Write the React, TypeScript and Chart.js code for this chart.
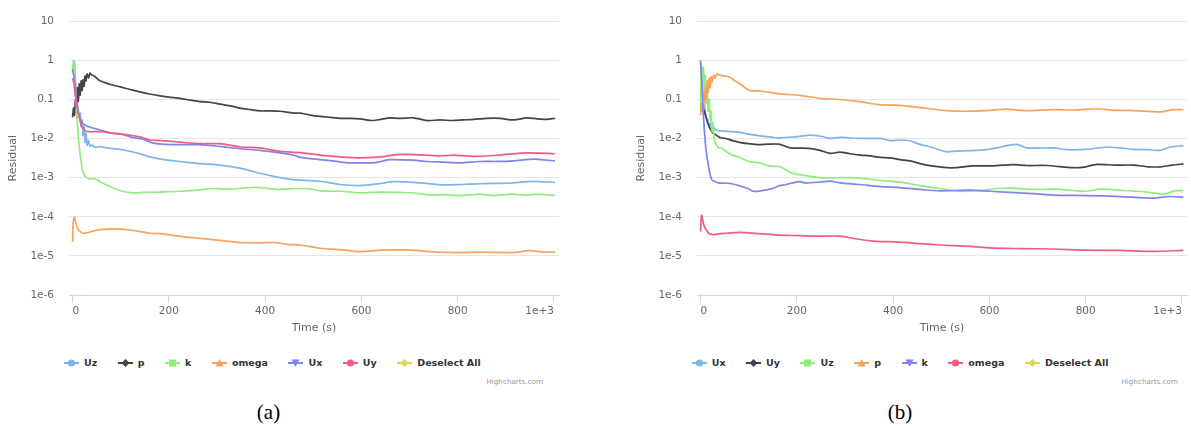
import React, { useEffect, useRef } from "react";
import { Chart, registerables } from "chart.js";
Chart.register(...registerables);

// ---------- shared axis data ----------
const palette = ["#7cb5ec", "#434348", "#90ed7d", "#f7a35c", "#8085e9", "#f15c80", "#e4d354"];
const markerShapes = ["circle", "diamond", "square", "triangle", "triangle-down", "circle", "diamond"];
const yTickValues = [1e-6, 1e-5, 1e-4, 1e-3, 1e-2, 0.1, 1, 10];
const yTickLabels = ["1e-6", "1e-5", "1e-4", "1e-3", "1e-2", "0.1", "1", "10"];
const xTickValues = [0, 200, 400, 600, 800, 1000];
const xTickLabels = ["0", "200", "400", "600", "800", "1e+3"];
const xTitle = "Time (s)";
const yTitle = "Residual";

// ---------- chart (a) ----------
const namesA = ["Uz", "p", "k", "omega", "Ux", "Uy", "Deselect All"];

const aUzT = [0, 2, 4, 6, 8, 10, 12, 14, 16, 18, 20, 22, 24, 26, 28, 30, 33, 36, 40, 47, 57, 75, 99, 130, 161, 190, 223, 265, 306, 348, 389, 431, 458, 473, 514, 556, 597, 639, 666, 722, 763, 805, 847, 915, 956, 1002];
const aUzV = [0.5, 0.8, 0.9, 0.3, 0.15, 0.08, 0.05, 0.035, 0.045, 0.02, 0.03, 0.012, 0.02, 0.008, 0.014, 0.0068, 0.009, 0.0065, 0.0068, 0.006, 0.0062, 0.0057, 0.0053, 0.0044, 0.0034, 0.0029, 0.0026, 0.0023, 0.0021, 0.00175, 0.0013, 0.001, 0.00089, 0.00087, 0.00081, 0.00067, 0.00063, 0.00071, 0.00079, 0.00074, 0.00066, 0.00067, 0.0007, 0.00074, 0.00081, 0.00076];

const aPT = [0, 2, 4, 6, 8, 10, 12, 14, 16, 18, 20, 22, 24, 26, 28, 30, 33, 36, 40, 45, 57, 75, 99, 120, 140, 160, 182, 200, 223, 245, 265, 285, 306, 330, 348, 370, 389, 410, 431, 458, 473, 494, 514, 535, 556, 576, 597, 624, 640, 659, 680, 708, 736, 763, 790, 810, 833, 860, 888, 916, 944, 965, 985, 1002];
const aPV = [0.035, 0.06, 0.04, 0.1, 0.065, 0.2, 0.09, 0.25, 0.13, 0.3, 0.17, 0.32, 0.22, 0.4, 0.3, 0.45, 0.35, 0.47, 0.42, 0.4, 0.3, 0.25, 0.21, 0.18, 0.156, 0.138, 0.124, 0.115, 0.107, 0.096, 0.088, 0.085, 0.076, 0.068, 0.06, 0.055, 0.051, 0.051, 0.05, 0.045, 0.045, 0.04, 0.037, 0.035, 0.033, 0.033, 0.032, 0.029, 0.031, 0.034, 0.033, 0.034, 0.029, 0.03, 0.029, 0.03, 0.031, 0.033, 0.033, 0.03, 0.034, 0.032, 0.031, 0.033];

const aKT = [0, 2, 5, 9, 13, 17, 21, 26, 33, 47, 61, 82, 103, 126, 150, 182, 223, 265, 293, 320, 348, 375, 400, 424, 450, 473, 493, 514, 556, 597, 639, 680, 708, 743, 775, 805, 847, 874, 909, 944, 964, 1002];
const aKV = [0.6, 1.0, 0.3, 0.04, 0.008, 0.003, 0.0015, 0.0011, 0.00095, 0.00093, 0.00074, 0.00056, 0.00045, 0.00041, 0.00042, 0.00043, 0.00045, 0.00049, 0.00053, 0.00051, 0.00053, 0.00057, 0.00054, 0.0005, 0.00052, 0.00053, 0.00052, 0.00046, 0.00045, 0.00041, 0.00043, 0.00042, 0.00041, 0.00036, 0.00037, 0.00035, 0.00038, 0.00035, 0.00038, 0.00036, 0.00038, 0.00035];

const aOmegaT = [0, 1, 2, 4, 6, 10, 16, 22, 30, 45, 57, 85, 119, 161, 182, 223, 265, 306, 348, 389, 420, 445, 473, 514, 556, 597, 639, 694, 743, 791, 847, 916, 950, 978, 1002];
const aOmegaV = [2.3e-5, 6e-5, 8.5e-5, 9.8e-5, 7.5e-5, 5.2e-5, 4.2e-5, 3.8e-5, 3.9e-5, 4.4e-5, 4.7e-5, 4.9e-5, 4.6e-5, 3.8e-5, 3.7e-5, 3.16e-5, 2.8e-5, 2.5e-5, 2.2e-5, 2.15e-5, 2.2e-5, 1.97e-5, 1.9e-5, 1.57e-5, 1.45e-5, 1.29e-5, 1.4e-5, 1.42e-5, 1.29e-5, 1.22e-5, 1.25e-5, 1.22e-5, 1.37e-5, 1.25e-5, 1.25e-5];

const aUxT = [0, 4, 8, 10, 12, 16, 22, 30, 40, 47, 65, 82, 103, 124, 145, 165, 186, 223, 265, 306, 348, 389, 431, 458, 473, 514, 540, 570, 597, 624, 640, 659, 708, 736, 770, 805, 847, 880, 916, 957, 1002];
const aUxV = [0.6, 0.3, 0.1, 0.066, 0.045, 0.031, 0.024, 0.021, 0.019, 0.018, 0.0155, 0.0138, 0.0128, 0.0107, 0.0098, 0.0078, 0.0072, 0.007, 0.007, 0.0063, 0.0055, 0.005, 0.0043, 0.0038, 0.0033, 0.0029, 0.0027, 0.0024, 0.0024, 0.0024, 0.0026, 0.0029, 0.0028, 0.0026, 0.0025, 0.0024, 0.0026, 0.0026, 0.0027, 0.003, 0.0027];

const aUyT = [0, 3, 6, 10, 14, 18, 22, 26, 33, 45, 61, 82, 103, 124, 145, 161, 186, 223, 265, 306, 348, 389, 431, 473, 514, 556, 597, 639, 673, 708, 763, 791, 833, 888, 944, 1002];
const aUyV = [0.35, 0.25, 0.12, 0.06, 0.035, 0.022, 0.018, 0.016, 0.015, 0.015, 0.015, 0.0138, 0.013, 0.012, 0.0107, 0.0092, 0.0089, 0.0081, 0.0074, 0.0074, 0.0061, 0.0058, 0.0047, 0.0044, 0.0038, 0.0034, 0.0032, 0.0034, 0.0039, 0.0039, 0.0036, 0.0038, 0.0035, 0.0038, 0.0043, 0.0041];

// ---------- chart (b) ----------
const namesB = ["Ux", "Uy", "Uz", "p", "k", "omega", "Deselect All"];

const bUxT = [0, 3, 6, 9, 12, 15, 18, 21, 24, 27, 30, 37, 50, 65, 82, 100, 123, 134, 155, 165, 190, 206, 227, 250, 269, 289, 310, 331, 373, 394, 414, 435, 456, 480, 511, 530, 560, 594, 615, 636, 657, 678, 705, 733, 761, 802, 844, 870, 899, 930, 955, 976, 1003];
const bUxV = [0.9, 0.3, 0.1, 0.06, 0.035, 0.03, 0.02, 0.025, 0.018, 0.02, 0.017, 0.016, 0.0155, 0.015, 0.0144, 0.013, 0.0118, 0.0114, 0.0105, 0.0104, 0.011, 0.0114, 0.0123, 0.0115, 0.0101, 0.0108, 0.0104, 0.0101, 0.0101, 0.0089, 0.0092, 0.0088, 0.0071, 0.006, 0.0046, 0.0048, 0.0049, 0.0052, 0.0058, 0.0066, 0.0071, 0.0058, 0.0057, 0.0058, 0.0052, 0.0053, 0.0061, 0.0058, 0.0053, 0.0052, 0.005, 0.0061, 0.0066];

const bUyT = [0, 5, 10, 15, 20, 25, 30, 40, 51, 65, 86, 100, 120, 140, 162, 186, 206, 227, 248, 269, 289, 310, 331, 352, 373, 394, 414, 435, 456, 480, 511, 530, 566, 600, 649, 678, 720, 775, 800, 823, 860, 899, 930, 955, 980, 1003];
const bUyV = [0.05, 0.06, 0.04, 0.025, 0.018, 0.014, 0.013, 0.0107, 0.0102, 0.009, 0.0078, 0.0074, 0.007, 0.0072, 0.0072, 0.0058, 0.0057, 0.0056, 0.005, 0.0042, 0.0045, 0.0041, 0.0038, 0.0036, 0.0033, 0.0032, 0.0029, 0.0027, 0.0023, 0.002, 0.0018, 0.0018, 0.002, 0.002, 0.00215, 0.00205, 0.00205, 0.0018, 0.0019, 0.0022, 0.0021, 0.0021, 0.0019, 0.0019, 0.0021, 0.00225];

const bUzT = [0, 2, 4, 6, 8, 10, 12, 14, 16, 18, 20, 22, 24, 26, 28, 30, 37, 44, 65, 82, 100, 123, 141, 165, 190, 206, 248, 289, 331, 373, 414, 456, 497, 539, 580, 615, 650, 690, 733, 775, 800, 830, 880, 927, 961, 985, 1003];
const bUzV = [0.05, 0.7, 0.3, 0.66, 0.15, 0.4, 0.08, 0.2, 0.05, 0.1, 0.03, 0.05, 0.015, 0.025, 0.01, 0.008, 0.006, 0.0056, 0.0038, 0.0033, 0.0026, 0.0024, 0.002, 0.0019, 0.0013, 0.0012, 0.001, 0.001, 0.00098, 0.00085, 0.00077, 0.00063, 0.00053, 0.00045, 0.00047, 0.00053, 0.00054, 0.0005, 0.00051, 0.00047, 0.00045, 0.00051, 0.00047, 0.00043, 0.00038, 0.00046, 0.00047];

const bPT = [0, 2, 4, 6, 8, 10, 12, 14, 16, 18, 20, 22, 24, 27, 30, 34, 40, 50, 61, 72, 82, 102, 123, 165, 206, 248, 289, 331, 373, 414, 456, 511, 545, 594, 636, 670, 733, 780, 823, 860, 900, 955, 982, 1003];
const bPV = [0.04, 0.08, 0.05, 0.15, 0.07, 0.2, 0.1, 0.3, 0.15, 0.35, 0.2, 0.38, 0.28, 0.42, 0.35, 0.45, 0.42, 0.4, 0.37, 0.3, 0.25, 0.17, 0.165, 0.14, 0.128, 0.107, 0.1, 0.088, 0.073, 0.071, 0.062, 0.052, 0.05, 0.052, 0.057, 0.052, 0.055, 0.054, 0.058, 0.053, 0.052, 0.048, 0.055, 0.055];

const bKT = [0, 3, 6, 11, 17, 23, 30, 37, 58, 79, 100, 109, 120, 137, 148, 165, 176, 192, 206, 220, 250, 269, 289, 331, 373, 414, 456, 497, 560, 601, 664, 733, 802, 872, 940, 970, 1003];
const bKV = [1.0, 0.2, 0.037, 0.0056, 0.0018, 0.0009, 0.0008, 0.00074, 0.00072, 0.00063, 0.00052, 0.00045, 0.00045, 0.00049, 0.00052, 0.00063, 0.00066, 0.00074, 0.00079, 0.00073, 0.00078, 0.00082, 0.00074, 0.00067, 0.00059, 0.00056, 0.0005, 0.00046, 0.00048, 0.00045, 0.00041, 0.00036, 0.00035, 0.00033, 0.0003, 0.00033, 0.00032];

const bOmegaT = [0, 2, 4, 7, 12, 18, 26, 40, 54, 82, 123, 165, 206, 248, 290, 317, 358, 414, 456, 497, 560, 601, 664, 733, 802, 872, 940, 1003];
const bOmegaV = [4.2e-5, 1.1e-4, 9e-5, 6e-5, 4.6e-5, 3.7e-5, 3.5e-5, 3.7e-5, 3.8e-5, 4e-5, 3.7e-5, 3.4e-5, 3.3e-5, 3.2e-5, 3.2e-5, 2.8e-5, 2.4e-5, 2.25e-5, 2.05e-5, 1.9e-5, 1.76e-5, 1.6e-5, 1.54e-5, 1.5e-5, 1.4e-5, 1.38e-5, 1.3e-5, 1.38e-5];

const emptyT: number[] = [];
const emptyV: number[] = [];

const seriesA = [
  [aUzT, aUzV], [aPT, aPV], [aKT, aKV], [aOmegaT, aOmegaV], [aUxT, aUxV], [aUyT, aUyV], [emptyT, emptyV],
];
const seriesB = [
  [bUxT, bUxV], [bUyT, bUyV], [bUzT, bUzV], [bPT, bPV], [bKT, bKV], [bOmegaT, bOmegaV], [emptyT, emptyV],
];

const AXIS_FONT = "DejaVu Sans";

function ResidualChart(props: { names: string[]; series: number[][][]; left: number; width: number; padRight: number }) {
  const ref = useRef<HTMLCanvasElement | null>(null);
  useEffect(() => {
    if (!ref.current) return;
    const datasets = props.series.map((s, i) => ({
      label: props.names[i],
      data: s[0].map((t, j) => ({ x: t, y: s[1][j] })),
      borderColor: palette[i],
      backgroundColor: palette[i],
      borderWidth: 1.7,
      pointRadius: 0,
      fill: false,
      tension: 0.25,
      order: -i,
    }));
    const chart = new Chart(ref.current, {
      type: "line",
      data: { datasets },
      options: {
        animation: false,
        responsive: false,
        maintainAspectRatio: false,
        layout: { padding: { left: 0, right: props.padRight, top: 14, bottom: 0 } },
        plugins: { legend: { display: false }, tooltip: { enabled: false } },
        scales: {
          x: {
            type: "linear",
            min: -7.4,
            max: 1010.4,
            afterBuildTicks: (s: any) => {
              s.ticks = xTickValues.map((v) => ({ value: v }));
            },
            afterFit: (s: any) => {
              s.height = 45;
            },
            ticks: {
              callback: (_v: any, i: number) => xTickLabels[i],
              align: "inner",
              color: "#666666",
              font: { family: AXIS_FONT, size: 10.5 },
              padding: 2,
              maxRotation: 0,
              autoSkip: false,
            },
            grid: { display: true, drawOnChartArea: false, drawTicks: true, tickLength: 8, color: "#ccd6eb", lineWidth: 1 },
            border: { display: true, color: "#ccd6eb", width: 1 },
            title: { display: true, text: xTitle, color: "#666666", font: { family: AXIS_FONT, size: 11 }, padding: { top: 0, bottom: 5 } },
          },
          y: {
            type: "logarithmic",
            min: 1e-6,
            max: 10,
            afterBuildTicks: (s: any) => {
              s.ticks = yTickValues.map((v) => ({ value: v }));
            },
            afterFit: (s: any) => {
              s.width = 69;
            },
            ticks: {
              callback: (_v: any, i: number) => yTickLabels[i],
              color: "#666666",
              font: { family: AXIS_FONT, size: 10.5 },
              padding: 15,
              autoSkip: false,
            },
            grid: { color: "#e6e6e6", drawTicks: false, lineWidth: 1 },
            border: { display: false },
            title: { display: true, text: yTitle, color: "#666666", font: { family: AXIS_FONT, size: 11 }, padding: { top: 7, bottom: 0 } },
          },
        },
      } as any,
    });
    return () => chart.destroy();
  }, []);
  return (
    <canvas
      ref={ref}
      width={props.width}
      height={340}
      style={{ position: "absolute", left: props.left, top: 0, width: props.width, height: 340 }}
    />
  );
}

function Symbol(props: { color: string; shape: string }) {
  const c = props.color;
  const cx = 7.5;
  const cy = 5;
  let marker: React.ReactNode = null;
  if (props.shape === "circle") marker = <circle cx={cx} cy={cy} r={3.6} fill={c} />;
  else if (props.shape === "diamond") marker = <polygon points={`${cx},${cy - 4} ${cx + 4},${cy} ${cx},${cy + 4} ${cx - 4},${cy}`} fill={c} />;
  else if (props.shape === "square") marker = <rect x={cx - 3.5} y={cy - 3.5} width={7} height={7} fill={c} />;
  else if (props.shape === "triangle") marker = <polygon points={`${cx},${cy - 4} ${cx + 4},${cy + 3.5} ${cx - 4},${cy + 3.5}`} fill={c} />;
  else marker = <polygon points={`${cx - 4},${cy - 3.5} ${cx + 4},${cy - 3.5} ${cx},${cy + 4}`} fill={c} />;
  return (
    <svg width={15} height={10} style={{ display: "block" }}>
      <line x1={0} y1={cy} x2={15} y2={cy} stroke={c} strokeWidth={2} />
      {marker}
    </svg>
  );
}

function Legend(props: { names: string[]; left: number }) {
  return (
    <div
      style={{
        position: "absolute",
        left: props.left,
        top: 357,
        height: 12,
        display: "flex",
        alignItems: "center",
        gap: 20.5,
        whiteSpace: "nowrap",
      }}
    >
      {props.names.map((n, i) => (
        <div key={n} style={{ display: "flex", alignItems: "center" }}>
          <Symbol color={palette[i]} shape={markerShapes[i]} />
          <span
            style={{
              marginLeft: 5,
              fontFamily: AXIS_FONT,
              fontWeight: "bold",
              fontSize: 9.5,
              lineHeight: "12px",
              color: "#333333",
            }}
          >
            {n}
          </span>
        </div>
      ))}
    </div>
  );
}

function Credit(props: { right: number }) {
  return (
    <div
      style={{
        position: "absolute",
        left: props.right - 120,
        width: 120,
        top: 377,
        textAlign: "right",
        fontFamily: AXIS_FONT,
        fontSize: 7.2,
        lineHeight: "10px",
        color: "#999999",
      }}
    >
      Highcharts.com
    </div>
  );
}

function Caption(props: { text: string; center: number }) {
  return (
    <div
      style={{
        position: "absolute",
        left: props.center - 40,
        width: 80,
        top: 399,
        textAlign: "center",
        fontFamily: "Liberation Serif",
        fontSize: 21,
        lineHeight: "26px",
        color: "#000",
      }}
    >
      {props.text}
    </div>
  );
}

export default function App() {
  return (
    <div style={{ position: "absolute", left: 0, top: 0, width: 1191, height: 426, overflow: "hidden", background: "#fff" }}>
      <ResidualChart names={namesA} series={seriesA} left={0} width={570} padRight={11} />
      <ResidualChart names={namesB} series={seriesB} left={628} width={563} padRight={4} />
      <Legend names={namesA} left={64} />
      <Legend names={namesB} left={691.7} />
      <Credit right={543} />
      <Credit right={1178} />
      <Caption text="(a)" center={268.5} />
      <Caption text="(b)" center={900} />
    </div>
  );
}
